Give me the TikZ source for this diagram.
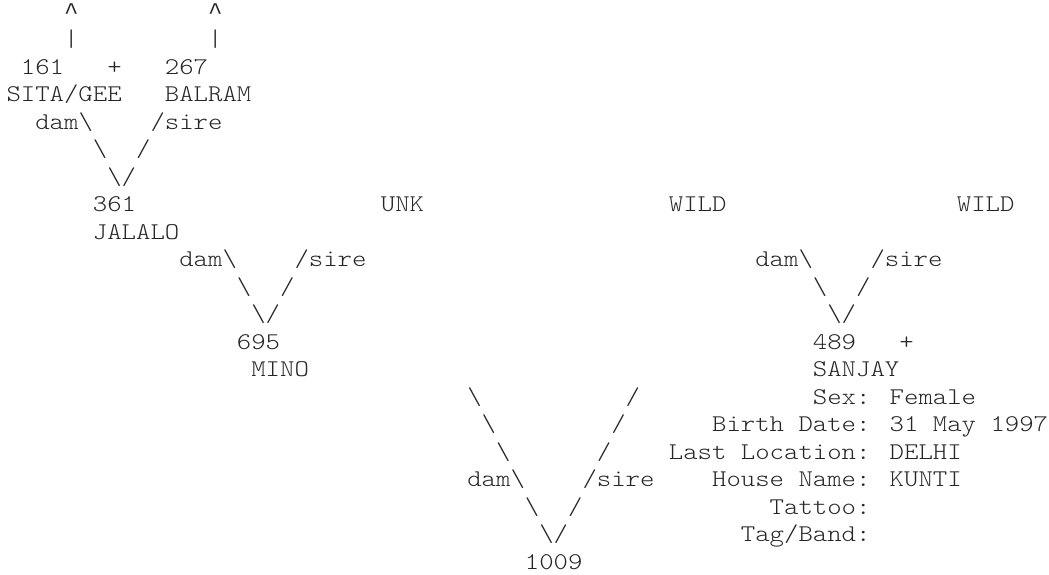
\documentclass[tikz,border=0pt]{standalone}
\usepackage{fontspec}
\newfontfamily\chartfont[FakeStretch=1.142857]{Latin Modern Mono Light}
\newfontfamily\caretfont{Liberation Mono}
\newcommand{\bsl}{\textbackslash}
\tikzset{cell/.style={anchor=base west, inner sep=0pt, outer sep=0pt,
    font=\chartfont\fontsize{24}{27.5}\selectfont, text=black!85},
  caret/.style={cell, font=\caretfont\fontsize{24}{27.5}\selectfont}}

\begin{document}
\begin{tikzpicture}[x=14.4pt, y=-27.5pt]
    \useasboundingbox (0pt,0pt) rectangle (1049pt,-574pt);
    \begin{scope}[shift={(6.5pt,-19pt)}]
        % Top ancestors
        \node[caret] (upA) at (4,0) {\textasciicircum};
        \node[caret] (upB) at (14,0) {\textasciicircum};
        \node[cell] (barA) at (4,1) {|};
        \node[cell] (barB) at (14,1) {|};
        \node[cell] (id161) at (1,2) {161};
        \node[cell] (plus161) at (7,2) {+};
        \node[cell] (id267) at (11,2) {267};
        \node[cell] (nm161) at (0,3) {SITA/GEE};
        \node[cell] (nm267) at (11,3) {BALRAM};

        % Grandparents
        \node[cell] (id361) at (6,7) {361};
        \node[cell] (nm361) at (6,8) {JALALO};
        \node[cell] (unk) at (26,7) {UNK};
        \node[cell] (wildA) at (46,7) {WILD};
        \node[cell] (wildB) at (66,7) {WILD};

        % Parents
        \node[cell] (id695) at (16,12) {695};
        \node[cell] (nm695) at (17,13) {MINO};
        \node[cell] (id489) at (56,12) {489};
        \node[cell] (plus489) at (62,12) {+};
        \node[cell] (nm489) at (56,13) {SANJAY};

        % dam/sire joins
        \foreach \c/\l in {6/4, 16/9, 56/9, 36/17} {
            \pgfmathtruncatemacro{\colD}{\c-4}
            \pgfmathtruncatemacro{\colS}{\c+4}
            \pgfmathtruncatemacro{\colR}{\c+3}
            \pgfmathtruncatemacro{\colM}{\c+1}
            \pgfmathtruncatemacro{\rowA}{\l+1}
            \pgfmathtruncatemacro{\rowB}{\l+2}
            \node[cell] (dam\c) at (\colD,\l) {dam\bsl};
            \node[cell] (sire\c) at (\colS,\l) {/sire};
            \node[cell] (legL\c) at (\c,\rowA) {\bsl};
            \node[cell] (legR\c) at (\colR,\rowA) {/};
            \node[cell] (tip\c) at (\colM,\rowB) {\bsl/};
        }

        % Long legs down to 1009
        \foreach \i in {0,1,2} {
            \node[cell] (farL\i) at ({32+\i},{14+\i}) {\bsl};
            \node[cell] (farR\i) at ({43-\i},{14+\i}) {/};
        }
        \node[cell] (id1009) at (36,20) {1009};

        % Details of 489
        \node[cell] (sex) at (56,14) {Sex: Female};
        \node[cell] (birth) at (49,15) {Birth Date: 31 May 1997};
        \node[cell] (loc) at (46,16) {Last Location: DELHI};
        \node[cell] (house) at (49,17) {House Name: KUNTI};
        \node[cell] (tattoo) at (53,18) {Tattoo:};
        \node[cell] (tag) at (51,19) {Tag/Band:};
    \end{scope}
\end{tikzpicture}
\end{document}
